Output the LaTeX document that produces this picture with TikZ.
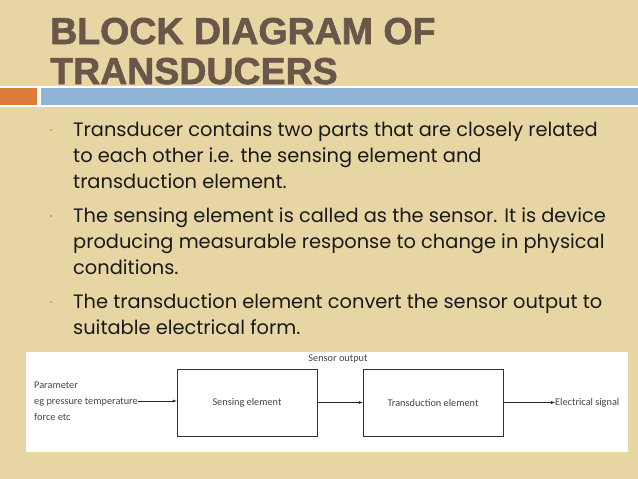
\documentclass[tikz,border=0pt]{standalone}
\usepackage{fontspec}
\usepackage{xcolor}
\usepackage{tikz}
\usetikzlibrary{positioning}
\usetikzlibrary{arrows,shapes}
\usetikzlibrary{calc}
\newfontfamily\titlefont{Liberation Sans}[BoldFeatures={FakeBold=1.6}]
\newfontfamily\bodyfont{Poppins}
\newfontfamily\diagfont{Carlito}
\definecolor{parchment}{RGB}{231,214,164}
\definecolor{titlebrown}{RGB}{107,86,74}
\definecolor{barblue}{RGB}{143,180,214}
\definecolor{barorange}{RGB}{222,124,62}
\definecolor{diaggray}{RGB}{70,70,70}
\tikzstyle{heading}=[anchor=base west,inner sep=0pt,text=titlebrown,font=\titlefont\bfseries\fontsize{37.5}{40}\selectfont]
\tikzstyle{bodyline}=[anchor=base west,inner sep=0pt,text=black!90,font=\bodyfont\fontsize{19.4}{26}\selectfont]
\tikzstyle{bulletdot}=[rectangle,fill=barorange!80,minimum size=2.5pt,inner sep=0pt]
\tikzstyle{block}=[rectangle,draw=black!80,thin,fill=white,minimum width=140pt,minimum height=67pt,inner sep=0pt]
\tikzstyle{lbl}=[inner sep=0pt,text=diaggray,font=\diagfont\fontsize{10.3}{16}\selectfont]
\tikzstyle{edge} = [draw,thin,black!85,-latex]

\begin{document}
\begin{tikzpicture}[x=1pt,y=-1pt]

  \useasboundingbox (0,0) rectangle (638,479);
  \fill[parchment] (0,0) rectangle (638,479);

  % heading
  \node[heading] (head1) at (50,44) {BLOCK DIAGRAM OF};
  \node[heading] (head2) at (50,84) {TRANSDUCERS};

  \fill[white] (0,86) rectangle (638,107);
  \fill[barorange] (0,88) rectangle (37,105);
  \fill[barblue] (41,88) rectangle (638,105);

  % bullet text
  \foreach \y/\name/\txt in {136/l1/Transducer contains two parts that are closely related,
                             162/l2/to each other i.e. the sensing element and,
                             188/l3/transduction element.,
                             222/l4/The sensing element is called as the sensor. It is device,
                             248/l5/producing measurable response to change in physical,
                             274/l6/conditions.,
                             308/l7/The transduction element convert the sensor output to,
                             334/l8/suitable electrical form.}
          \node[bodyline] (\name) at (73,\y) {\txt};

  \foreach \y/\name in {130/b1, 216/b2, 302/b3}
          \node[bulletdot] (\name) at (51,\y) {};

  % block diagram
  \fill[white] (26,352) rectangle (628,452);

  \foreach \x/\name/\label in {247/sense/Sensing element, 433/trans/Transduction element}
          \node[block,font=\diagfont\fontsize{10.3}{12}\selectfont,text=diaggray] (\name) at (\x,402.5) {\label};

  \node[lbl,align=left,anchor=west] (param) at (34,401) {Parameter\\eg pressure temperature\\force etc};
  \node[lbl] (sout) at (338,359) {Sensor output};
  \node[lbl,anchor=west] (sig) at (555,402.5) {Electrical signal};

  \path[edge] (param.east) -- (param.east -| sense.west);
  \foreach \source/ \dest in {sense/trans, trans/sig}
         \path[edge] (\source) -- (\dest);

\end{tikzpicture}
\end{document}
